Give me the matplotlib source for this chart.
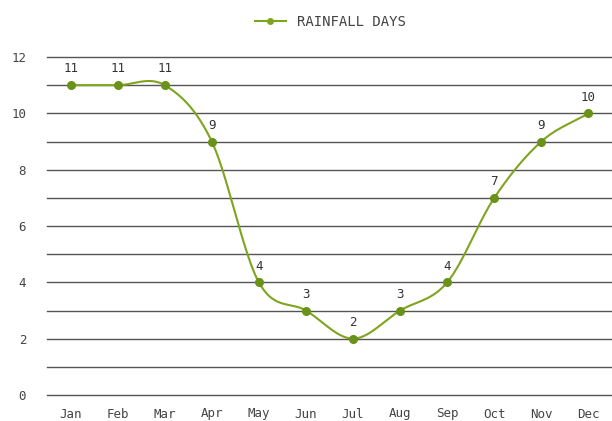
import numpy as np
import matplotlib.pyplot as plt

plt.rcParams['font.family'] = ['DejaVu Sans Mono']

months = ["Jan", "Feb", "Mar", "Apr", "May", "Jun", "Jul", "Aug", "Sep", "Oct", "Nov", "Dec"]
rain_days = [11, 11, 11, 9, 4, 3, 2, 3, 4, 7, 9, 10]

LINE = "#7fa41e"
DOT = "#6a9218"

x = np.arange(len(months), dtype=float)
y = np.array(rain_days, dtype=float)

# catmull-rom smoothing for the line only
m = np.zeros_like(y)
m[1:-1] = (y[2:] - y[:-2]) / 2
m[0] = y[1] - y[0]
m[-1] = y[-1] - y[-2]
xs, ys = [], []
for i in range(len(x) - 1):
    t = np.linspace(0, 1, 30)
    h00 = 2 * t**3 - 3 * t**2 + 1
    h10 = t**3 - 2 * t**2 + t
    h01 = -2 * t**3 + 3 * t**2
    h11 = t**3 - t**2
    xs.append(x[i] + t)
    ys.append(h00 * y[i] + h10 * m[i] + h01 * y[i + 1] + h11 * m[i + 1])
xs = np.concatenate(xs)
ys = np.concatenate(ys)

fig = plt.figure(figsize=(6.12, 4.21), dpi=100)
ax = fig.add_axes([47 / 612, 26 / 421, 565 / 612, 338 / 421])

for g in range(0, 13):
    ax.axhline(g, color="#555555", lw=1.0, zorder=1, clip_on=False)

ax.plot(xs, ys, color=LINE, lw=1.5, zorder=3)
ax.plot(x, y, "o", color=DOT, ms=5.5, zorder=4)
for xi, yi in zip(x, rain_days):
    ax.annotate(str(yi), (xi, yi), xytext=(0, 7), textcoords="offset points",
                ha="center", va="bottom", fontsize=9, color="#333333")

ax.set_xlim(-0.5, 11.5)
ax.set_ylim(0, 12)
ax.set_xticks(x)
ax.set_xticklabels(months)
ax.set_yticks(range(0, 13, 2))
ax.tick_params(length=0, labelsize=9, colors="#444444")
ax.tick_params(axis="y", pad=15)
ax.tick_params(axis="x", pad=9)
for s in ax.spines.values():
    s.set_visible(False)

ax.plot([], [], color=LINE, marker="o", ms=4, lw=1.5, label="RAINFALL DAYS")
fig.legend(loc="upper center", bbox_to_anchor=(0.54, 0.995), frameon=False,
           fontsize=10, handlelength=2.2, labelcolor="#444444")

plt.savefig("out.png", dpi=100)
